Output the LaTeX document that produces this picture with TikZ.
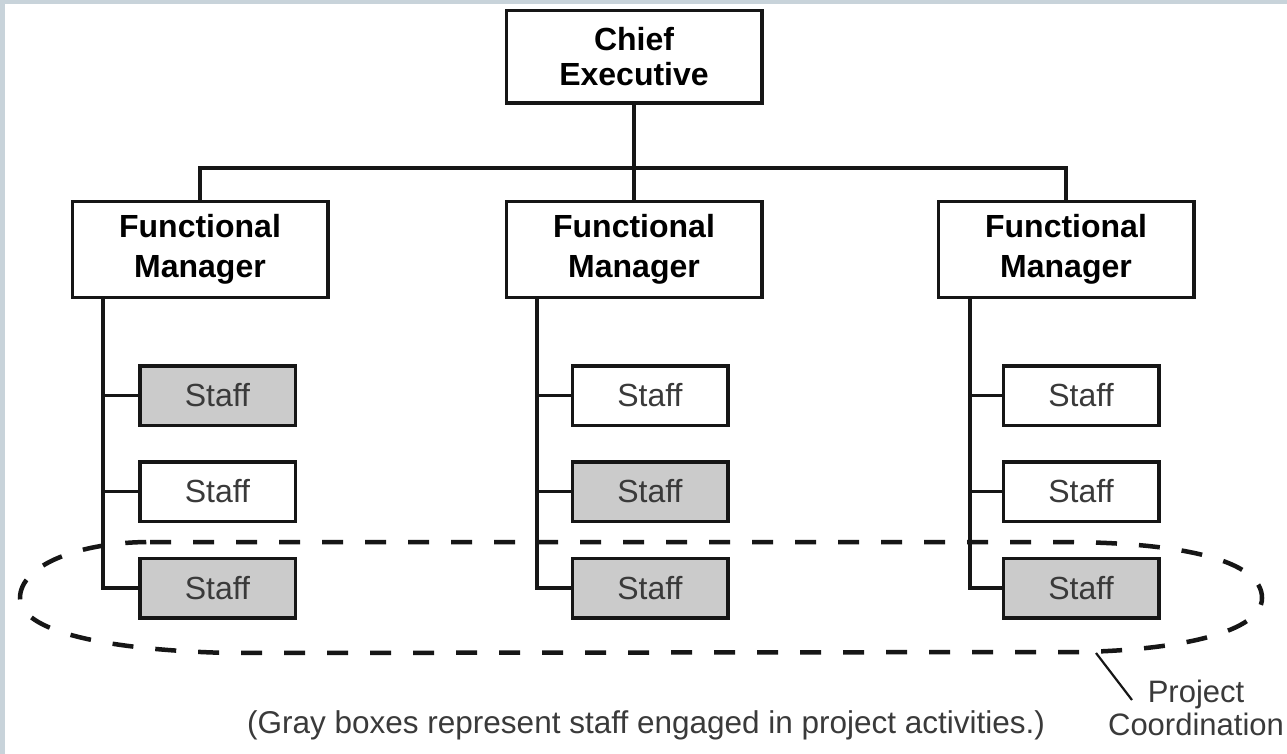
\documentclass[tikz,border=0pt]{standalone}
\usepackage{fontspec}
\setmainfont{Liberation Sans}
\definecolor{framec}{HTML}{C8D3DA}
\definecolor{staffgray}{HTML}{CBCBCB}
\definecolor{txtgray}{HTML}{3A3A3A}
\definecolor{linec}{HTML}{161616}
\tikzset{
  boss/.style={draw=linec, line width=3.5pt, fill=white, minimum width=255.5pt, align=center, inner sep=0pt},
  stafbox/.style={draw=linec, line width=3.5pt, minimum width=155.5pt, minimum height=59.5pt, inner sep=0pt,
     font=\fontsize{32}{36}\selectfont, text=txtgray},
  engaged/.style={stafbox, fill=staffgray},
  idle/.style={stafbox, fill=white},
  conn/.style={draw=linec, line width=3.5pt},
  projring/.style={draw=linec, line width=4.5pt, dash pattern=on 21pt off 22pt},
  note/.style={text=txtgray, inner sep=0pt}
}
\begin{document}
\begin{tikzpicture}[x=1pt,y=-1pt]
\useasboundingbox (0,0) rectangle (1287,754);
\fill[white] (0,0) rectangle (1287,754);
\fill[framec] (0,0) rectangle (1287,4);
\fill[framec] (0,0) rectangle (5,754);

% top boxes
\node[boss, minimum height=92.5pt, font=\bfseries\fontsize{32}{35}\selectfont] (chief) at (634,57) {Chief\\Executive};
\node[boss, minimum height=95.5pt, font=\bfseries\fontsize{32}{40}\selectfont] (fm1) at (200,249.5) {Functional\\Manager};
\node[boss, minimum height=95.5pt, font=\bfseries\fontsize{32}{40}\selectfont] (fm2) at (634,249.5) {Functional\\Manager};
\node[boss, minimum height=95.5pt, font=\bfseries\fontsize{32}{40}\selectfont] (fm3) at (1066,249.5) {Functional\\Manager};

% staff boxes
\node[engaged] (s11) at (217.5,395.5) {Staff};
\node[idle]    (s12) at (217.5,491.5) {Staff};
\node[engaged] (s13) at (217.5,588) {Staff};
\node[idle]    (s21) at (650,395.5) {Staff};
\node[engaged] (s22) at (650,491.5) {Staff};
\node[engaged] (s23) at (650,588) {Staff};
\node[idle]    (s31) at (1081,395.5) {Staff};
\node[idle]    (s32) at (1081,491.5) {Staff};
\node[engaged] (s33) at (1081,588) {Staff};

% connectors top
\coordinate (bar) at (634,168);
\draw[conn] (chief.south) -- (chief.south |- fm2.north);
\draw[conn] (fm1.north) |- (bar) -| (fm3.north);

% trunks
\coordinate (t1) at (103,0);
\coordinate (t2) at (537,0);
\coordinate (t3) at (970,0);
\draw[conn] (t1 |- fm1.south) |- (s13.west);
\draw[conn] (t1 |- s11.west) -- (s11.west);
\draw[conn] (t1 |- s12.west) -- (s12.west);
\draw[conn] (t2 |- fm2.south) |- (s23.west);
\draw[conn] (t2 |- s21.west) -- (s21.west);
\draw[conn] (t2 |- s22.west) -- (s22.west);
\draw[conn] (t3 |- fm3.south) |- (s33.west);
\draw[conn] (t3 |- s31.west) -- (s31.west);
\draw[conn] (t3 |- s32.west) -- (s32.west);

% project coordination ring
\draw[projring] (150,542) -- (1060,542)
  .. controls (1180,542) and (1262,560) .. (1262,598)
  .. controls (1262,632) and (1180,650) .. (1080,652)
  -- (230,653)
  .. controls (100,650) and (20,630) .. (20,598)
  .. controls (20,565) and (80,542) .. (150,542) -- cycle;

\coordinate (ptrA) at (1096,653);
\coordinate (ptrB) at (1132,700);
\draw[draw=linec, line width=2.2pt] (ptrA) -- (ptrB);
\node[note, anchor=base, font=\fontsize{31}{33}\selectfont] (pj) at (1196,702) {Project};
\node[note, anchor=base, font=\fontsize{31}{33}\selectfont] (pc) at (1196,735) {Coordination};
\node[note, anchor=base west, font=\fontsize{31.5}{33}\selectfont] (cap) at (247,733) {(Gray boxes represent staff engaged in project activities.)};
\end{tikzpicture}
\end{document}
